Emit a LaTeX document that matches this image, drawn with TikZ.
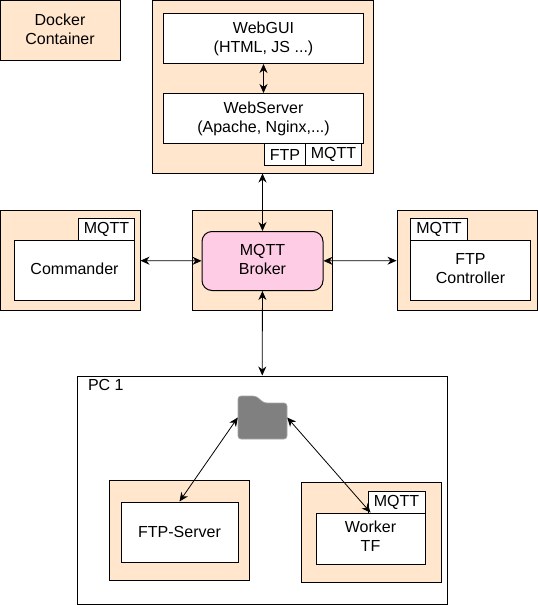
\documentclass[tikz,border=0pt]{standalone}
\usepackage{fontspec}
\setmainfont{Liberation Sans}
\usetikzlibrary{arrows.meta}
\definecolor{dockerpeach}{RGB}{255,230,204}
\definecolor{brokerpink}{RGB}{255,204,230}
\definecolor{foldergray}{RGB}{128,128,128}
\tikzset{
  box/.style={
    draw=black,
    line width=1pt,
    inner sep=0pt,
    align=center,
    font=\fontsize{16}{19}\selectfont
  },
  docker/.style={box, fill=dockerpeach},
  part/.style={box, fill=white},
  broker/.style={box, fill=brokerpink, rounded corners=10pt},
  lifted/.style={text depth=4pt},
  size/.style 2 args={minimum width=#1pt, minimum height=#2pt},
  link/.style={line width=0.8pt, {Stealth[length=9pt,width=8pt]}-{Stealth[length=9pt,width=8pt]}}
}

\begin{document}
\begin{tikzpicture}[x=1pt,y=-1pt]
  \useasboundingbox (0.5,0.5) rectangle (538.5,605.5);
  % legend
  \node[docker,size={120}{60},text depth=2pt] (legend) at (60.5,31) {Docker\\Container};
  % web stack
  \node[docker,size={221}{173}] (webstack) at (263,87) {};
  \node[part,size={200}{50}] (webgui) at (264,39) {WebGUI\\(HTML, JS ...)};
  \node[part,size={200}{50}] (webserver) at (264,119) {WebServer\\(Apache, Nginx,...)};
  \node[part,size={41}{22}] (webftp) at (285.5,155) {FTP};
  \node[part,size={56}{22}] (webmqtt) at (334,155) {MQTT};
  % commander
  \node[docker,size={140}{100}] (cmdbox) at (70.5,261) {};
  \node[part,size={56}{22}] (cmdmqtt) at (107,230) {MQTT};
  \node[part,lifted,size={120}{60}] (commander) at (75,271) {Commander};
  % broker
  \node[docker,size={140}{100}] (brokerbox) at (263,261) {};
  \node[broker,lifted,size={121}{59}] (mqttbroker) at (263,261.5) {MQTT\\Broker};
  % ftp controller
  \node[docker,size={140}{100}] (ctrlbox) at (467.5,261) {};
  \node[part,size={57}{22}] (ctrlmqtt) at (439.5,230) {MQTT};
  \node[part,lifted,size={120}{60}] (ftpctrl) at (471,271) {FTP\\Controller};
  % pc
  \node[box,size={370}{228}] (pc) at (262.5,490.5) {};
  \node[box,draw=none,anchor=west] (pclabel) at (88,385) {PC 1};
  \node[inner sep=0pt,size={49}{43}] (folder) at (263,418) {};
  \fill[foldergray,draw=foldergray!70,line width=0.6pt,rounded corners=3pt]
    (238.5,439.5) -- (238.5,396.5) -- (256.5,396.5) -- (264.5,403.5) -- (287.5,403.5) -- (287.5,439.5) -- cycle;
  \node[docker,size={140}{100}] (ftpbox) at (180,530.5) {};
  \node[part,size={117}{60}] (ftpserver) at (180,532.5) {FTP-Server};
  \node[docker,size={140}{100}] (workerbox) at (371.5,532.5) {};
  \node[part,size={57}{22}] (workermqtt) at (397,502.5) {MQTT};
  \node[part,lifted,size={109}{51}] (worker) at (371,539) {Worker\\TF};
  % links
  \draw[link] (webgui) -- (webserver);
  \draw[link] (webstack) -- (mqttbroker);
  \draw[link] (cmdbox) -- (mqttbroker);
  \draw[link] (mqttbroker) -- (ctrlbox);
  \draw[link] (mqttbroker) -- (pc);
  \draw[link] (folder.west) -- (ftpserver.north);
  \draw[link] (folder.east) -- (worker.north);
\end{tikzpicture}
\end{document}
